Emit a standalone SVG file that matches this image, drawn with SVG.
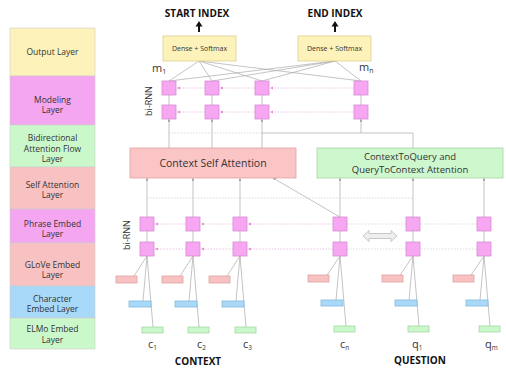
<svg xmlns="http://www.w3.org/2000/svg" width="506" height="371" viewBox="0 0 506 371">
<defs>
<style>
.t{font-family:"Open Sans","DejaVu Sans",sans-serif;fill:#333;}
.lay{font-size:8.5px;text-anchor:middle;}
.b{font-weight:bold;fill:#111;font-size:10px;text-anchor:middle;}
.sq{fill:#f7a6f2;stroke:#d58fd3;stroke-width:0.8;}
.sal{fill:#f9c2c2;stroke:#dea3a3;stroke-width:0.8;}
.blu{fill:#a9d9f9;stroke:#86b9dc;stroke-width:0.8;}
.grn{fill:#cbf8cb;stroke:#a4d5a4;stroke-width:0.8;}
.yel{fill:#fdf3ba;stroke:#dccf8e;stroke-width:0.8;}
.ln{stroke:#aaa;stroke-width:0.7;fill:none;}
.la{stroke:#aaa;stroke-width:0.7;fill:none;marker-end:url(#ah);}
.dt{stroke:#e6b3dd;stroke-width:0.8;stroke-dasharray:1.5 1.5;fill:none;marker-end:url(#ap);}
.dg{stroke:#ccc;stroke-width:0.7;stroke-dasharray:1.5 1.5;fill:none;}
</style>
<marker id="ah" viewBox="0 0 6 6" refX="6" refY="3" markerWidth="4" markerHeight="4" orient="auto"><path d="M0,0L6,3L0,6z" fill="#999"/></marker>
<marker id="ap" viewBox="0 0 6 6" refX="6" refY="3" markerWidth="4" markerHeight="4" orient="auto"><path d="M0,0L6,3L0,6z" fill="#e08fd0"/></marker>
</defs>

<g id="layers">
<rect x="10" y="28" width="85" height="48" fill="#fdf3ba" stroke="#ccc" stroke-width="0.6"/>
<rect x="10" y="76" width="85" height="49" fill="#f5a6f0" stroke="#ccc" stroke-width="0.6"/>
<rect x="10" y="125" width="85" height="42" fill="#cbf8cb" stroke="#ccc" stroke-width="0.6"/>
<rect x="10" y="167" width="85" height="42" fill="#f9c2c2" stroke="#ccc" stroke-width="0.6"/>
<rect x="10" y="209" width="85" height="34" fill="#f5a6f0" stroke="#ccc" stroke-width="0.6"/>
<rect x="10" y="243" width="85" height="43" fill="#f9c2c2" stroke="#ccc" stroke-width="0.6"/>
<rect x="10" y="286" width="85" height="32" fill="#a9d9f9" stroke="#ccc" stroke-width="0.6"/>
<rect x="10" y="318" width="85" height="31" fill="#cbf8cb" stroke="#ccc" stroke-width="0.6"/>
<text class="t lay" x="52.5" y="55">Output Layer</text>
<text class="t lay" x="52.5" y="103">Modeling</text>
<text class="t lay" x="52.5" y="113">Layer</text>
<text class="t lay" x="52.5" y="141">Bidirectional</text>
<text class="t lay" x="52.5" y="151.5">Attention Flow</text>
<text class="t lay" x="52.5" y="162">Layer</text>
<text class="t lay" x="52.5" y="188">Self Attention</text>
<text class="t lay" x="52.5" y="198">Layer</text>
<text class="t lay" x="52.5" y="227">Phrase Embed</text>
<text class="t lay" x="52.5" y="237">Layer</text>
<text class="t lay" x="52.5" y="268">GLoVe Embed</text>
<text class="t lay" x="52.5" y="278">Layer</text>
<text class="t lay" x="52.5" y="302">Character</text>
<text class="t lay" x="52.5" y="312">Embed Layer</text>
<text class="t lay" x="52.5" y="332">ELMo Embed</text>
<text class="t lay" x="52.5" y="343">Layer</text>
</g>

<g id="connectors">
<line class="ln" x1="199" y1="61" x2="169" y2="81"/>
<line class="ln" x1="199" y1="61" x2="212" y2="81"/>
<line class="ln" x1="199" y1="61" x2="262" y2="81"/>
<line class="ln" x1="199" y1="61" x2="361" y2="81"/>
<line class="ln" x1="335" y1="61" x2="169" y2="81"/>
<line class="ln" x1="335" y1="61" x2="212" y2="81"/>
<line class="ln" x1="335" y1="61" x2="262" y2="81"/>
<line class="ln" x1="335" y1="61" x2="361" y2="81"/>
<line class="ln" x1="169" y1="95" x2="169" y2="105"/>
<line class="ln" x1="212" y1="95" x2="212" y2="105"/>
<line class="ln" x1="262" y1="95" x2="262" y2="105"/>
<line class="ln" x1="361" y1="95" x2="361" y2="105"/>
<line class="la" x1="169" y1="148" x2="169" y2="119"/>
<line class="la" x1="212" y1="148" x2="212" y2="119"/>
<line class="la" x1="262" y1="148" x2="262" y2="119"/>
<line class="la" x1="361" y1="133" x2="361" y2="119"/>
<polyline class="ln" points="413,148 413,133 262,133"/>
<line class="dg" x1="169" y1="133" x2="262" y2="133"/>
<line class="dt" x1="205" y1="88" x2="177" y2="88"/>
<line class="dt" x1="255" y1="88" x2="220" y2="88"/>
<line class="dt" x1="354" y1="88" x2="270" y2="88"/>
<line class="dt" x1="205" y1="112" x2="177" y2="112"/>
<line class="dt" x1="255" y1="112" x2="220" y2="112"/>
<line class="dt" x1="354" y1="112" x2="270" y2="112"/>
<line class="la" x1="147" y1="217" x2="147" y2="178"/>
<line class="la" x1="193" y1="217" x2="193" y2="178"/>
<line class="la" x1="240" y1="217" x2="240" y2="178"/>
<line class="la" x1="340" y1="217" x2="340" y2="178"/>
<line class="la" x1="340" y1="217" x2="273" y2="178"/>
<line class="la" x1="413" y1="217" x2="413" y2="178"/>
<line class="la" x1="484" y1="217" x2="484" y2="178"/>
<line class="dg" x1="147" y1="198" x2="413" y2="198"/>
<line class="ln" x1="147" y1="231" x2="147" y2="242"/>
<line class="ln" x1="193" y1="231" x2="193" y2="242"/>
<line class="ln" x1="240" y1="231" x2="240" y2="242"/>
<line class="ln" x1="340" y1="231" x2="340" y2="242"/>
<line class="ln" x1="413" y1="231" x2="413" y2="242"/>
<line class="ln" x1="484" y1="231" x2="484" y2="242"/>
<line class="dt" x1="186" y1="224" x2="155" y2="224"/>
<line class="dt" x1="233" y1="224" x2="201" y2="224"/>
<line class="dt" x1="333" y1="224" x2="248" y2="224"/>
<line class="dt" x1="186" y1="249" x2="155" y2="249"/>
<line class="dt" x1="233" y1="249" x2="201" y2="249"/>
<line class="dt" x1="333" y1="249" x2="248" y2="249"/>
<line class="dg" x1="421" y1="224" x2="477" y2="224"/>
<line class="dg" x1="421" y1="249" x2="477" y2="249"/>
<line class="dg" x1="347" y1="224" x2="406" y2="224"/>
<line class="dg" x1="347" y1="249" x2="406" y2="249"/>
<line class="ln" x1="134" y1="276" x2="147" y2="256"/><line class="ln" x1="143" y1="301" x2="147" y2="256"/><line class="ln" x1="153" y1="327" x2="147" y2="256"/>
<line class="ln" x1="180" y1="276" x2="193" y2="256"/><line class="ln" x1="189" y1="301" x2="193" y2="256"/><line class="ln" x1="199" y1="327" x2="193" y2="256"/>
<line class="ln" x1="227" y1="276" x2="240" y2="256"/><line class="ln" x1="236" y1="301" x2="240" y2="256"/><line class="ln" x1="246" y1="327" x2="240" y2="256"/>
<line class="ln" x1="327" y1="275" x2="340" y2="256"/><line class="ln" x1="336" y1="300" x2="340" y2="256"/><line class="ln" x1="346" y1="326" x2="340" y2="256"/>
<line class="ln" x1="400" y1="275" x2="413" y2="256"/><line class="ln" x1="409" y1="300" x2="413" y2="256"/><line class="ln" x1="419" y1="326" x2="413" y2="256"/>
<line class="ln" x1="471" y1="275" x2="484" y2="256"/><line class="ln" x1="480" y1="300" x2="484" y2="256"/><line class="ln" x1="490" y1="326" x2="484" y2="256"/>
<line x1="199" y1="32" x2="199" y2="26" stroke="#111" stroke-width="2"/>
<polygon points="199,21 202.5,26.5 195.5,26.5" fill="#111"/>
<line x1="335" y1="32" x2="335" y2="26" stroke="#111" stroke-width="2"/>
<polygon points="335,21 338.5,26.5 331.5,26.5" fill="#111"/>
<polygon points="363,236 369,230.5 369,233.5 391,233.5 391,230.5 397,236 391,241.5 391,238.5 369,238.5 369,241.5" fill="#eee" stroke="#bbb" stroke-width="0.8"/>
</g>

<g id="output">
<text class="t b" x="197" y="17">START INDEX</text>
<text class="t b" x="335" y="17">END INDEX</text>
<rect class="yel" x="163" y="36" width="73" height="25"/>
<text class="t" x="199.5" y="51" font-size="7" text-anchor="middle">Dense + Softmax</text>
<rect class="yel" x="298" y="36" width="73" height="25"/>
<text class="t" x="334.5" y="51" font-size="7" text-anchor="middle">Dense + Softmax</text>
</g>

<g id="modeling">
<text class="t" x="152" y="72" font-size="11">m<tspan font-size="7" dy="2">1</tspan></text>
<text class="t" x="359" y="71" font-size="11">m<tspan font-size="7" dy="2">n</tspan></text>
<text class="t" transform="translate(151.5,101) rotate(-90)" font-size="9" text-anchor="middle">bi-RNN</text>
<rect class="sq" x="162" y="81" width="14" height="14"/>
<rect class="sq" x="205" y="81" width="14" height="14"/>
<rect class="sq" x="255" y="81" width="14" height="14"/>
<rect class="sq" x="354" y="81" width="14" height="14"/>
<rect class="sq" x="162" y="105" width="14" height="14"/>
<rect class="sq" x="205" y="105" width="14" height="14"/>
<rect class="sq" x="255" y="105" width="14" height="14"/>
<rect class="sq" x="354" y="105" width="14" height="14"/>
</g>

<g id="attention">
<rect x="130" y="148" width="166" height="30" fill="#fbc5c5" stroke="#dfa3a3" stroke-width="0.8"/>
<text class="t" x="213" y="167" font-size="10.5" text-anchor="middle">Context Self Attention</text>
<rect x="317" y="148" width="186" height="30" fill="#cdf7cd" stroke="#a6d4a6" stroke-width="0.8"/>
<text class="t" x="410" y="160" font-size="9.5" text-anchor="middle">ContextToQuery and</text>
<text class="t" x="410" y="173" font-size="9.5" text-anchor="middle">QueryToContext Attention</text>
</g>

<g id="phrase">
<text class="t" transform="translate(129.5,235) rotate(-90)" font-size="9" text-anchor="middle">bi-RNN</text>
<rect class="sq" x="140" y="217" width="14" height="14"/>
<rect class="sq" x="186" y="217" width="14" height="14"/>
<rect class="sq" x="233" y="217" width="14" height="14"/>
<rect class="sq" x="333" y="217" width="14" height="14"/>
<rect class="sq" x="406" y="217" width="14" height="14"/>
<rect class="sq" x="477" y="217" width="14" height="14"/>
<rect class="sq" x="140" y="242" width="14" height="14"/>
<rect class="sq" x="186" y="242" width="14" height="14"/>
<rect class="sq" x="233" y="242" width="14" height="14"/>
<rect class="sq" x="333" y="242" width="14" height="14"/>
<rect class="sq" x="406" y="242" width="14" height="14"/>
<rect class="sq" x="477" y="242" width="14" height="14"/>
</g>

<g id="embeddings">
<rect class="sal" x="116" y="276" width="21" height="7"/><rect class="blu" x="129" y="301" width="22" height="6"/><rect class="grn" x="142" y="327" width="21" height="6"/>
<rect class="sal" x="162" y="276" width="21" height="7"/><rect class="blu" x="175" y="301" width="22" height="6"/><rect class="grn" x="188" y="327" width="21" height="6"/>
<rect class="sal" x="209" y="276" width="21" height="7"/><rect class="blu" x="222" y="301" width="22" height="6"/><rect class="grn" x="235" y="327" width="21" height="6"/>
<rect class="sal" x="308" y="275" width="21" height="7"/><rect class="blu" x="321" y="300" width="22" height="6"/><rect class="grn" x="334" y="326" width="21" height="6"/>
<rect class="sal" x="382" y="275" width="21" height="7"/><rect class="blu" x="395" y="300" width="22" height="6"/><rect class="grn" x="408" y="326" width="21" height="6"/>
<rect class="sal" x="453" y="275" width="21" height="7"/><rect class="blu" x="466" y="300" width="22" height="6"/><rect class="grn" x="479" y="326" width="21" height="6"/>
</g>

<g id="tokens">
<text class="t" x="148" y="348" font-size="11">c<tspan font-size="6.5" dy="1.5">1</tspan></text>
<text class="t" x="197" y="348" font-size="11">c<tspan font-size="6.5" dy="1.5">2</tspan></text>
<text class="t" x="243" y="348" font-size="11">c<tspan font-size="6.5" dy="1.5">3</tspan></text>
<text class="t" x="340" y="348" font-size="11">c<tspan font-size="6.5" dy="1.5">n</tspan></text>
<text class="t" x="412" y="348" font-size="11">q<tspan font-size="6.5" dy="1.5">1</tspan></text>
<text class="t" x="485" y="348" font-size="11">q<tspan font-size="6.5" dy="1.5">m</tspan></text>
<text class="t b" x="198" y="365">CONTEXT</text>
<text class="t b" x="420" y="364">QUESTION</text>
</g>
</svg>
